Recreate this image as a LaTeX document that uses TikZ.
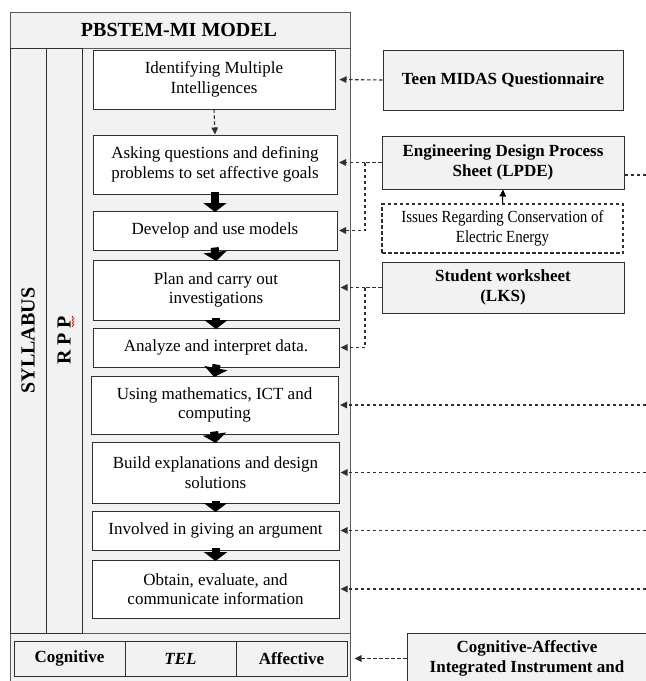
\documentclass[tikz,border=0pt]{standalone}
\usepackage{fontspec}
\setmainfont{Liberation Serif}
\newfontfamily\condfont[FakeStretch=0.88]{Liberation Serif}
\usetikzlibrary{arrows.meta,decorations.pathmorphing}
\definecolor{panel}{HTML}{F2F2F2}
\definecolor{edgec}{HTML}{303030}
\tikzset{
  txt/.style={font=\fontsize{17}{19.5}\selectfont},
  proc/.style={draw=edgec, line width=1pt, fill=white, align=center, inner sep=0pt, txt},
  src/.style={draw=edgec, line width=1pt, fill=panel, align=center, inner sep=0pt, font=\fontsize{17}{19.5}\selectfont\bfseries},
  cell/.style={draw=edgec, line width=1pt, fill=panel, align=center, inner sep=0pt, minimum width=111pt, minimum height=35pt, font=\fontsize{17}{19.5}\selectfont\bfseries},
  sidecol/.style={draw=edgec, line width=0.8pt, fill=panel, rotate=90, inner sep=0pt, minimum width=585pt, minimum height=36pt, font=\fontsize{20}{24}\selectfont\bfseries},
  dashline/.style={draw=edgec, line width=1.1pt, dash pattern=on 3.5pt off 2.5pt},
  dasharrow/.style={dashline, -{Triangle[length=7pt,width=6.5pt]}},
  bigarrow/.style={draw=black, line width=8pt, -{Triangle[length=9pt,width=23pt]}, shorten <=-3pt, shorten >=-1.5pt},
}
\begin{document}
\begin{tikzpicture}[x=1pt,y=-1pt]
\useasboundingbox (0,0) rectangle (646,681);
\clip (0,0) rectangle (646,681);
\fill[white] (0,0) rectangle (646,681);

% outer model frame
\draw[draw=edgec!80, line width=0.9pt, fill=panel] (10,12) rectangle (350,710);
\draw[draw=edgec!80, line width=0.9pt] (10,48) -- (350,48);
\draw[draw=edgec!80, line width=0.9pt] (10,633) -- (350,633);
\node[font=\fontsize{20}{24}\selectfont\bfseries] (title) at (179,30) {PBSTEM-MI MODEL};

% side columns
\node[sidecol] (syl) at (28,340.5) {SYLLABUS};
\node[sidecol] (rpp) at (64,340.5) {R P P};
\draw[red, line width=0.7pt, decorate, decoration={snake, amplitude=0.9pt, segment length=3pt}] (73,327) -- (73,316);

% process boxes
\node[proc, minimum width=242pt, minimum height=59pt] (b1) at (214,79.5) {Identifying Multiple\\Intelligences};
\node[proc, minimum width=244pt, minimum height=59pt] (b2) at (215,164.5) {Asking questions and defining\\problems to set affective goals};
\node[proc, minimum width=244pt, minimum height=39pt] (b3) at (215,230.5) {Develop and use models};
\node[proc, minimum width=246pt, minimum height=60pt] (b4) at (216,290) {Plan and carry out\\investigations};
\node[proc, minimum width=246pt, minimum height=39pt] (b5) at (216,347.5) {Analyze and interpret data.};
\node[proc, minimum width=247pt, minimum height=58pt] (b6) at (214.5,405) {Using mathematics, ICT and\\computing};
\node[proc, minimum width=247pt, minimum height=61pt] (b7) at (215.5,472.5) {Build explanations and design\\solutions};
\node[proc, minimum width=247pt, minimum height=39pt] (b8) at (215.5,530.5) {Involved in giving an argument};
\node[proc, minimum width=247pt, minimum height=58pt] (b9) at (215.5,589) {Obtain, evaluate, and\\communicate information};

% bottom table
\node[cell] (cog) at (69.5,658.5) {Cognitive};
\node[cell] (tel) at (180.5,658.5) {\itshape TEL};
\node[cell] (aff) at (291.5,658.5) {Affective};

% arrows between process boxes
\draw[dashline, -{Triangle[length=7pt,width=6.5pt]}] (b1.south) -- (b2.north);
\draw[bigarrow] (b2.south) -- (b3.north);
\draw[bigarrow] (b3.south) -- (b4.north);
\draw[bigarrow] (b4.south) -- (b5.north);
\draw[bigarrow] (b5.south) -- (b6.north);
\draw[bigarrow] (b6.south) -- (b7.north);
\draw[bigarrow] (b7.south) -- (b8.north);
\draw[bigarrow] (b8.south) -- (b9.north);

% right-hand sources
\node[src, minimum width=240pt, minimum height=60pt] (teen) at (503,80) {Teen MIDAS Questionnaire};
\node[src, minimum width=242pt, minimum height=53pt] (lpde) at (503,162.5) {Engineering Design Process\\Sheet (LPDE)};
\node[proc, dashline, minimum width=241pt, minimum height=49pt, font=\fontsize{17}{19.5}\selectfont\condfont] (issues) at (502.5,228.5) {Issues Regarding Conservation of\\Electric Energy};
\node[src, minimum width=242pt, minimum height=51pt] (lks) at (503,287.5) {Student worksheet\\(LKS)};
\node[draw=edgec, line width=1pt, fill=panel, minimum width=240pt, minimum height=70pt, inner sep=0pt] (caii) at (527,668) {};
\node[font=\fontsize{17}{19.5}\selectfont\bfseries, align=center] (caiitxt) at (527,658.5) {Cognitive-Affective\\Integrated Instrument and};

% junctions and edge coordinates
\coordinate (j1) at (365,162.5);
\coordinate (j2) at (365,287.5);
\coordinate (E) at (646,0);
\coordinate (lpdeout) at (646,175);

% connectors from sources
\draw[dasharrow, shorten >=4pt] (teen.west) -- (b1.east);
\draw[dashline] (lpde.west) -- (j1);
\draw[dasharrow, shorten >=1.5pt] (j1) -- (j1 -| b2.east);
\draw[dasharrow, shorten >=1.5pt] (j1) |- (b3.east);
\draw[draw=black, line width=1pt, -{Triangle[length=7pt,width=6.5pt]}] (issues.north) -- (lpde.south);
\draw[dashline] (lpdeout -| lpde.east) -- (lpdeout);
\draw[dashline] (lks.west) -- (j2);
\draw[dasharrow, shorten >=1pt] (j2) -- (j2 -| b4.east);
\draw[dasharrow, shorten >=1pt] (j2) |- (b5.east);
\draw[dasharrow, shorten >=1.5pt] (E |- b6.east) -- (b6.east);
\draw[dasharrow, shorten >=1pt] (E |- b7.east) -- (b7.east);
\draw[dasharrow, shorten >=1pt] (E |- b8.east) -- (b8.east);
\draw[dasharrow, shorten >=1pt] (E |- b9.east) -- (b9.east);
\draw[dasharrow, shorten >=7pt] (caii.west |- aff.east) -- (aff.east);
\end{tikzpicture}
\end{document}
